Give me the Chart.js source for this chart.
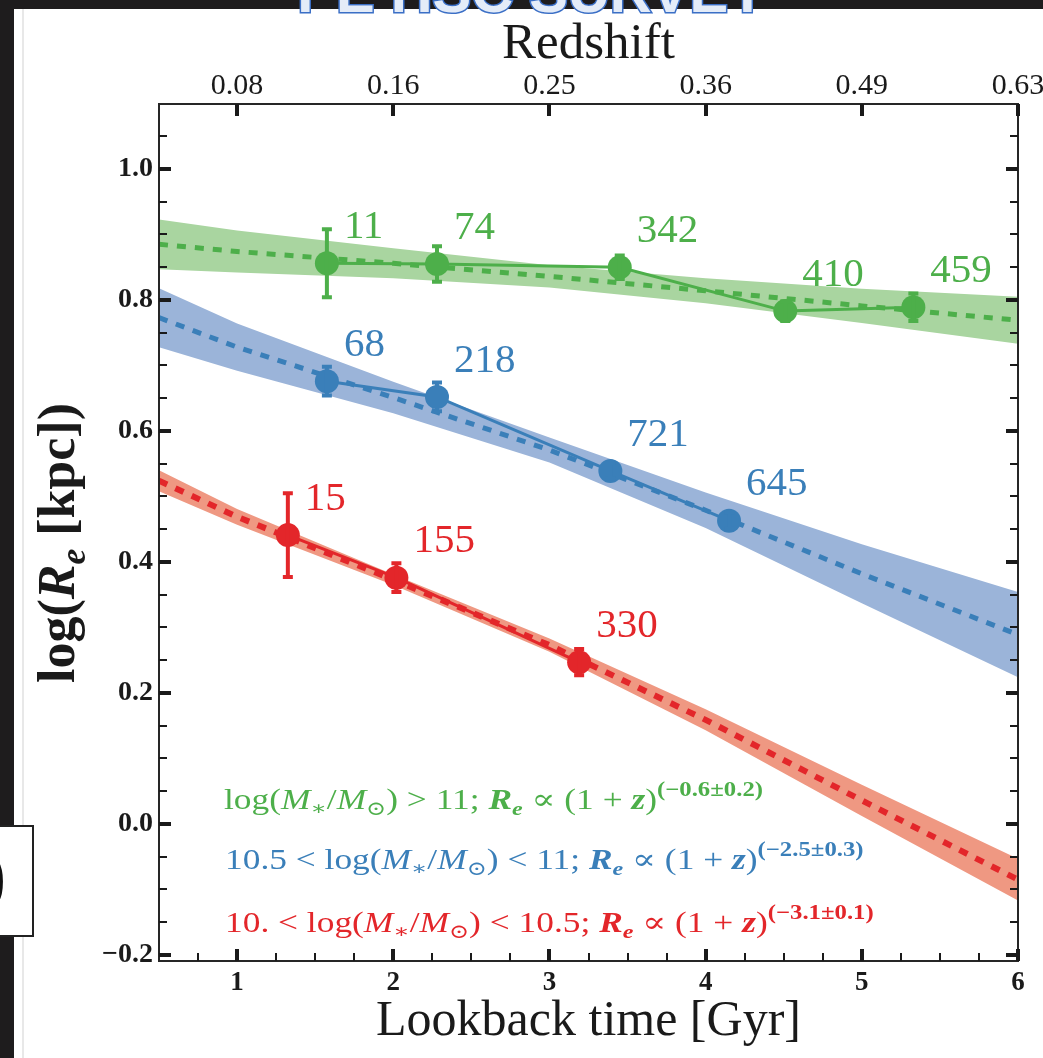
<!DOCTYPE html>
<html>
<head>
<meta charset="utf-8">
<script src="https://cdn.jsdelivr.net/npm/chart.js@4.4.1/dist/chart.umd.min.js"></script>
<style>
html, body { margin: 0; padding: 0; background: #fff; }
#contenedor { position: relative; width: 1043px; height: 1058px; }
</style>
</head>
<body>
<div id="contenedor"><canvas id="grafico" width="1043" height="1058"></canvas></div>
<script>
const tiempos = [0.5, 1, 2, 3, 4, 5, 6];

const ajusteVerde = [0.885, 0.874, 0.856, 0.836, 0.814, 0.791, 0.769];
const bandaVerdeSup = [0.923, 0.906, 0.879, 0.853, 0.833, 0.817, 0.805];
const bandaVerdeInf = [0.847, 0.842, 0.833, 0.819, 0.795, 0.765, 0.733];

const ajusteAzul = [0.773, 0.728, 0.651, 0.571, 0.479, 0.382, 0.289];
const bandaAzulSup = [0.818, 0.764, 0.675, 0.590, 0.506, 0.427, 0.354];
const bandaAzulInf = [0.728, 0.692, 0.627, 0.552, 0.452, 0.337, 0.224];

const ajusteRojo = [0.524, 0.469, 0.373, 0.273, 0.159, 0.036, -0.085];
const bandaRojoSup = [0.540, 0.481, 0.381, 0.283, 0.175, 0.060, -0.053];
const bandaRojoInf = [0.508, 0.457, 0.365, 0.263, 0.143, 0.012, -0.117];

// measured points: lookback time, log(Re), error, number of galaxies
const tVerde = [1.575, 2.28, 3.45, 4.51, 5.33];
const rVerde = [0.856, 0.855, 0.850, 0.783, 0.789];
const errVerde = [0.052, 0.027, 0.018, 0.015, 0.021];
const nVerde = ['11', '74', '342', '410', '459'];

const tAzul = [1.575, 2.28, 3.39, 4.15];
const rAzul = [0.676, 0.652, 0.539, 0.463];
const errAzul = [0.022, 0.022, 0.012, 0.012];
const nAzul = ['68', '218', '721', '645'];

const tRojo = [1.325, 2.02, 3.19];
const rRojo = [0.441, 0.376, 0.247];
const errRojo = [0.064, 0.022, 0.020];
const nRojo = ['15', '155', '330'];

// ticks
const ticksX = [1, 2, 3, 4, 5, 6];
const etiquetasZ = ['0.08', '0.16', '0.25', '0.36', '0.49', '0.63'];
const ticksY = [-0.2, 0, 0.2, 0.4, 0.6, 0.8, 1.0];
const etiquetasY = ['\u22120.2', '0.0', '0.2', '0.4', '0.6', '0.8', '1.0'];
const pasoMenorX = 0.25;
const pasoMenorY = 0.05;

// annotation lines (text, style)  i = italic, b = bold, _ = subscript, ^ = superscript
const textoVerde = [['log(', ''], ['M', 'i'], ['\u2217', '_'], ['/', ''], ['M', 'i'], ['\u2299', '_'], [') > 11; ', ''],
    ['R', 'bi'], ['e', 'bi_'], [' \u221d (1 + ', ''], ['z', 'bi'], [')', ''], ['(\u22120.6\u00b10.2)', 'b^']];
const textoAzul = [['10.5 < log(', ''], ['M', 'i'], ['\u2217', '_'], ['/', ''], ['M', 'i'], ['\u2299', '_'], [') < 11; ', ''],
    ['R', 'bi'], ['e', 'bi_'], [' \u221d (1 + ', ''], ['z', 'bi'], [')', ''], ['(\u22122.5\u00b10.3)', 'b^']];
const textoRojo = [['10. < log(', ''], ['M', 'i'], ['\u2217', '_'], ['/', ''], ['M', 'i'], ['\u2299', '_'], [') < 10.5; ', ''],
    ['R', 'bi'], ['e', 'bi_'], [' \u221d (1 + ', ''], ['z', 'bi'], [')', ''], ['(\u22123.1\u00b10.1)', 'b^']];
const tituloY = [['log(', 'b'], ['R', 'bi'], ['e', 'bi_'], [' [kpc])', 'b']];

const verde = '#4daf4a', azul = '#3a7fb9', rojo = '#e3262a';
const fondoVerde = '#a9d5a0', fondoAzul = '#9bb4d9', fondoRojo = '#ef9882';
const serif = '"Liberation Serif", "DejaVu Serif", serif';

function puntos(xs, ys) {
    return xs.map((t, i) => ({ x: t, y: ys[i] }));
}

// draws text made of pieces in different styles, returns its width
function textoRico(ctx, partes, x, y, tam, color, soloMedir) {
    const x0 = x;
    ctx.fillStyle = color;
    ctx.textAlign = 'left';
    ctx.textBaseline = 'alphabetic';
    partes.forEach(([txt, estilo]) => {
        let t = tam, dy = 0;
        if (estilo.includes('_')) { t = tam * 0.68; dy = tam * 0.22; }
        if (estilo.includes('^')) { t = tam * 0.7; dy = -tam * 0.45; }
        ctx.font = (estilo.includes('i') ? 'italic ' : '') + (estilo.includes('b') ? 'bold ' : '') + t + 'px ' + serif;
        if (!soloMedir) ctx.fillText(txt, x, y + dy);
        x += ctx.measureText(txt).width;
    });
    return x - x0;
}

// CM math is wider than Times: stretch the annotation lines a little
function nota(ctx, partes, x, y, color) {
    ctx.save();
    ctx.translate(x, y);
    ctx.scale(1.22, 1);
    textoRico(ctx, partes, 0, 0, 29, color);
    ctx.restore();
}

const barrasError = {
    id: 'barrasError',
    afterDatasetsDraw(chart) {
        const { ctx, scales: { x, y } } = chart;
        const grupos = [[tVerde, rVerde, errVerde, verde], [tAzul, rAzul, errAzul, azul], [tRojo, rRojo, errRojo, rojo]];
        ctx.save();
        grupos.forEach(([ts, rs, es, color]) => {
            ctx.strokeStyle = color;
            ts.forEach((t, i) => {
                const px = x.getPixelForValue(t);
                const arriba = y.getPixelForValue(rs[i] + es[i]);
                const abajo = y.getPixelForValue(rs[i] - es[i]);
                ctx.lineWidth = 4;
                ctx.beginPath();
                ctx.moveTo(px, arriba); ctx.lineTo(px, abajo);
                ctx.moveTo(px - 5, arriba); ctx.lineTo(px + 5, arriba);
                ctx.moveTo(px - 5, abajo); ctx.lineTo(px + 5, abajo);
                ctx.stroke();
            });
        });
        ctx.restore();
    }
};

const marco = {
    id: 'marco',
    afterDatasetsDraw(chart) {
        const { ctx, chartArea: a, scales: { x, y } } = chart;
        ctx.save();
        ctx.strokeStyle = '#262626';
        ctx.lineWidth = 2;
        ctx.strokeRect(a.left, a.top, a.right - a.left, a.bottom - a.top);
        ctx.strokeStyle = '#1a1a1a';
        // left / right ticks
        for (let v = -0.2; v <= y.max + 1e-9; v += pasoMenorY) {
            const mayor = Math.abs(v / 0.2 - Math.round(v / 0.2)) < 1e-6;
            const py = Math.round(y.getPixelForValue(v));
            const largo = mayor ? 12 : 8;
            ctx.lineWidth = mayor ? 4 : 2;
            ctx.beginPath();
            ctx.moveTo(a.left, py); ctx.lineTo(a.left + largo, py);
            ctx.moveTo(a.right, py); ctx.lineTo(a.right - largo, py);
            ctx.stroke();
        }
        // bottom ticks
        for (let v = 0.75; v <= x.max + 1e-9; v += pasoMenorX) {
            const mayor = Math.abs(v - Math.round(v)) < 1e-6;
            const px = Math.round(x.getPixelForValue(v));
            const largo = mayor ? 12 : 8;
            ctx.lineWidth = mayor ? 4 : 2;
            ctx.beginPath();
            ctx.moveTo(px, a.bottom); ctx.lineTo(px, a.bottom - largo);
            ctx.stroke();
        }
        // top ticks (redshift)
        ctx.lineWidth = 4;
        ticksX.forEach(v => {
            const px = Math.round(x.getPixelForValue(v));
            ctx.beginPath();
            ctx.moveTo(px, a.top); ctx.lineTo(px, a.top + 12);
            ctx.stroke();
        });
        ctx.restore();
    }
};

const textos = {
    id: 'textos',
    afterDraw(chart) {
        const { ctx, scales: { x, y } } = chart;
        ctx.save();
        // number of galaxies next to each point
        ctx.font = '41px ' + serif;
        ctx.textAlign = 'left';
        ctx.textBaseline = 'middle';
        [[tVerde, rVerde, nVerde, verde], [tAzul, rAzul, nAzul, azul], [tRojo, rRojo, nRojo, rojo]].forEach(([ts, rs, ns, color]) => {
            ctx.fillStyle = color;
            ts.forEach((t, i) => {
                ctx.fillText(ns[i], x.getPixelForValue(t) + 17, y.getPixelForValue(rs[i]) - 36);
            });
        });
        // annotations
        nota(ctx, textoVerde, 224, 809, verde);
        nota(ctx, textoAzul, 225, 869, azul);
        nota(ctx, textoRojo, 225, 932, rojo);
        // y title
        ctx.translate(74, 543);
        ctx.rotate(-Math.PI / 2);
        const ancho = textoRico(ctx, tituloY, 0, 0, 52, '#1a1a1a', true);
        textoRico(ctx, tituloY, -ancho / 2, 0, 52, '#1a1a1a');
        ctx.restore();

        // page decoration around the cropped figure
        ctx.save();
        ctx.fillStyle = '#1e1c1d';
        ctx.fillRect(0, 0, 1043, 9);
        ctx.fillRect(0, 0, 14, 1058);
        ctx.fillStyle = '#e8e8e8';
        ctx.fillRect(22, 9, 2, 1049);
        ctx.font = 'bold 58px "Liberation Sans", sans-serif';
        ctx.textAlign = 'center';
        ctx.textBaseline = 'alphabetic';
        ctx.lineWidth = 3;
        ctx.strokeStyle = '#3b6fc6';
        ctx.fillStyle = '#e4ecf8';
        ctx.strokeText('PE HSC SURVEY', 532, 12);
        ctx.fillText('PE HSC SURVEY', 532, 12);
        ctx.fillStyle = '#fff';
        ctx.fillRect(0, 826, 33, 110);
        ctx.strokeStyle = '#222';
        ctx.lineWidth = 2;
        ctx.strokeRect(-2, 826, 35, 110);
        ctx.beginPath();
        ctx.rect(0, 827, 32, 108);
        ctx.clip();
        ctx.fillStyle = '#111';
        ctx.font = 'bold 80px ' + serif;
        ctx.textAlign = 'right';
        ctx.fillText('0', 6, 908);
        ctx.restore();
    }
};

const ctx = document.getElementById('grafico').getContext('2d');

new Chart(ctx, {
    type: 'line',
    data: {
        datasets: [
            { data: puntos(tVerde, rVerde), borderColor: verde, backgroundColor: verde, borderWidth: 3, pointRadius: 12, pointBorderWidth: 0, order: 0 },
            { data: puntos(tAzul, rAzul), borderColor: azul, backgroundColor: azul, borderWidth: 3, pointRadius: 12, pointBorderWidth: 0, order: 0 },
            { data: puntos(tRojo, rRojo), borderColor: rojo, backgroundColor: rojo, borderWidth: 3, pointRadius: 12, pointBorderWidth: 0, order: 0 },
            { data: puntos(tiempos, ajusteVerde), borderColor: verde, borderWidth: 5, borderDash: [9, 9], pointRadius: 0, order: 1 },
            { data: puntos(tiempos, ajusteAzul), borderColor: azul, borderWidth: 5, borderDash: [9, 9], pointRadius: 0, order: 1 },
            { data: puntos(tiempos, ajusteRojo), borderColor: rojo, borderWidth: 6, borderDash: [9, 9], pointRadius: 0, order: 1 },
            { data: puntos(tiempos, bandaVerdeSup), borderWidth: 0, pointRadius: 0, order: 2 },
            { data: puntos(tiempos, bandaVerdeInf), borderWidth: 0, pointRadius: 0, fill: '-1', backgroundColor: fondoVerde, order: 2 },
            { data: puntos(tiempos, bandaAzulSup), borderWidth: 0, pointRadius: 0, order: 2 },
            { data: puntos(tiempos, bandaAzulInf), borderWidth: 0, pointRadius: 0, fill: '-1', backgroundColor: fondoAzul, order: 2 },
            { data: puntos(tiempos, bandaRojoSup), borderWidth: 0, pointRadius: 0, order: 2 },
            { data: puntos(tiempos, bandaRojoInf), borderWidth: 0, pointRadius: 0, fill: '-1', backgroundColor: fondoRojo, order: 2 }
        ]
    },
    options: {
        responsive: false,
        animation: false,
        devicePixelRatio: 1,
        layout: { padding: { left: 0, right: 25, top: 0, bottom: 0 } },
        plugins: { legend: { display: false }, tooltip: { enabled: false } },
        scales: {
            x: {
                type: 'linear', position: 'bottom', min: 0.5, max: 6,
                grid: { display: false, drawTicks: false }, border: { display: false },
                afterBuildTicks: s => { s.ticks = ticksX.map(v => ({ value: v })); },
                afterFit: s => { s.height = 97; s.paddingLeft = 0; s.paddingRight = 0; },
                ticks: { autoSkip: false, maxRotation: 0, padding: 6, color: '#1a1a1a', font: { family: serif, size: 27, weight: 'bold' } },
                title: { display: true, text: 'Lookback time [Gyr]', color: '#1a1a1a', padding: { top: 0, bottom: 6 }, font: { family: serif, size: 50 } }
            },
            x2: {
                type: 'linear', position: 'top', min: 0.5, max: 6,
                grid: { display: false, drawTicks: false }, border: { display: false },
                afterBuildTicks: s => { s.ticks = ticksX.map(v => ({ value: v })); },
                afterFit: s => { s.height = 104; s.paddingLeft = 0; s.paddingRight = 0; },
                ticks: { autoSkip: false, maxRotation: 0, padding: 0, color: '#1a1a1a', font: { family: serif, size: 30 },
                    callback: (v, i) => etiquetasZ[i] },
                title: { display: true, text: 'Redshift', color: '#1a1a1a', padding: { top: 14, bottom: 0 }, font: { family: serif, size: 51 } }
            },
            y: {
                type: 'linear', min: -0.2092, max: 1.0992,
                grid: { display: false, drawTicks: false }, border: { display: false },
                afterBuildTicks: s => { s.ticks = ticksY.map(v => ({ value: v })); },
                afterFit: s => { s.width = 159; s.paddingTop = 0; s.paddingBottom = 0; },
                ticks: { autoSkip: false, padding: 6, color: '#1a1a1a', font: { family: serif, size: 28, weight: 'bold' },
                    callback: (v, i) => etiquetasY[i] }
            }
        }
    },
    plugins: [barrasError, marco, textos]
});
</script>
</body>
</html>
